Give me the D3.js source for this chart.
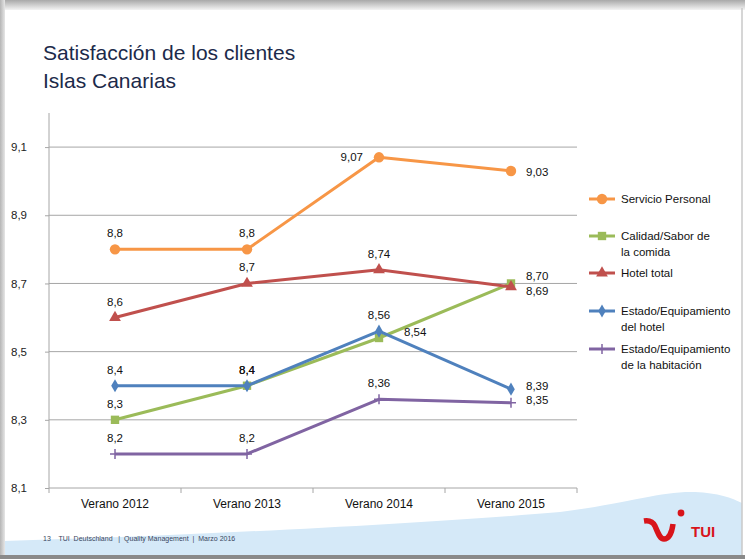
<!DOCTYPE html>
<html>
<head>
<meta charset="utf-8">
<script src="https://cdn.jsdelivr.net/npm/d3@7"></script>
<style>
  body { margin: 0; background: #fff; }
  svg { display: block; }
  text { font-family: "Liberation Sans", Arial, sans-serif; }
</style>
</head>
<body>
<div id="chart"></div>
<script>
// data
const categories = ["Verano 2012", "Verano 2013", "Verano 2014", "Verano 2015"];
const yTicks = [8.1, 8.3, 8.5, 8.7, 8.9, 9.1];

const servicioPersonal = [8.8, 8.8, 9.07, 9.03];
const calidadComida = [8.3, 8.4, 8.54, 8.70];
const hotelTotal = [8.6, 8.7, 8.74, 8.69];
const estadoHotel = [8.4, 8.4, 8.56, 8.39];
const estadoHabitacion = [8.2, 8.2, 8.36, 8.35];

const servicioLabels = ["8,8", "8,8", "9,07", "9,03"];
const calidadLabels = ["8,3", "8,4", "8,54", "8,70"];
const hotelLabels = ["8,6", "8,7", "8,74", "8,69"];
const estadoHotelLabels = ["8,4", "8,4", "8,56", "8,39"];
const habitacionLabels = ["8,2", "8,2", "8,36", "8,35"];

const width = 745, height = 559;
const margin = {top: 113, left: 49, right: 577, bottom: 488};

// label placement: t = above, r = right, l = left, with a small vertical nudge
const series = [
  {name: ["Servicio Personal"], color: "#f79646", marker: "circle",
   values: servicioPersonal, labels: servicioLabels,
   place: [["t", 0], ["t", 0], ["l", 0], ["r", 1]], legendY: 199},
  {name: ["Calidad/Sabor de", "la comida"], color: "#9bbb59", marker: "square",
   values: calidadComida, labels: calidadLabels,
   place: [["t", 0], ["t", 0], ["r2", -6], ["r", -7]], legendY: 236},
  {name: ["Hotel total"], color: "#c0504d", marker: "triangle",
   values: hotelTotal, labels: hotelLabels,
   place: [["t", 0], ["t", 0], ["t", 0], ["r", 4]], legendY: 273},
  {name: ["Estado/Equipamiento", "del hotel"], color: "#4f81bd", marker: "diamond",
   values: estadoHotel, labels: estadoHotelLabels,
   place: [["t", 0], ["t", 0], ["t", 0], ["r", -3]], legendY: 311},
  {name: ["Estado/Equipamiento", "de la habitación"], color: "#8064a2", marker: "plus",
   values: estadoHabitacion, labels: habitacionLabels,
   place: [["t", 0], ["t", 0], ["t", 0], ["r", -3]], legendY: 349}
];

const svg = d3.select("#chart").append("svg")
  .attr("width", width)
  .attr("height", height);

// slide frame
const defs = svg.append("defs");
const topGrad = defs.append("linearGradient").attr("id", "topShade")
  .attr("x1", 0).attr("y1", 0).attr("x2", 0).attr("y2", 1);
topGrad.append("stop").attr("offset", "0%").attr("stop-color", "#a9a9a9");
topGrad.append("stop").attr("offset", "100%").attr("stop-color", "#f4f4f4");
const leftGrad = defs.append("linearGradient").attr("id", "leftShade")
  .attr("x1", 0).attr("y1", 0).attr("x2", 1).attr("y2", 0);
leftGrad.append("stop").attr("offset", "0%").attr("stop-color", "#b5b5b5");
leftGrad.append("stop").attr("offset", "100%").attr("stop-color", "#e6e6e6");

svg.append("rect").attr("width", width).attr("height", height).attr("fill", "#fff");

// blue wave at the bottom
svg.append("path")
  .attr("d", "M4,541 C180,536 420,524 560,512 C630,503 660,491 695,492 C718,493 732,498 742,503 L742,556 L4,556 Z")
  .attr("fill", "#d5e9f8");

svg.append("rect").attr("x", 0).attr("y", 0).attr("width", width).attr("height", 10).attr("fill", "url(#topShade)");
svg.append("rect").attr("x", 0).attr("y", 0).attr("width", 5).attr("height", height).attr("fill", "url(#leftShade)");
svg.append("line").attr("x1", 742).attr("x2", 742).attr("y1", 8).attr("y2", 556)
  .attr("stroke", "#c8c8c8").attr("stroke-width", 1.5);
svg.append("rect").attr("x", 0).attr("y", 555).attr("width", width).attr("height", 4).attr("fill", "#8a8a8a");

// title
const title = svg.append("text")
  .attr("x", 43)
  .attr("y", 60)
  .attr("fill", "#1c2a4a")
  .style("font-size", "21px");
title.append("tspan").attr("x", 43).text("Satisfacción de los clientes");
title.append("tspan").attr("x", 43).attr("dy", 28).text("Islas Canarias");

// scales
const x = d3.scaleBand().domain(categories).range([margin.left, margin.right]).padding(0);
const y = d3.scaleLinear().domain([8.1, 9.2]).range([margin.bottom, margin.top]);
const cx = d => x(d) + x.bandwidth() / 2;

// gridlines
svg.append("g")
  .selectAll("line")
  .data(yTicks.slice(1))
  .enter()
  .append("line")
  .attr("x1", margin.left)
  .attr("x2", margin.right)
  .attr("y1", d => y(d))
  .attr("y2", d => y(d))
  .attr("stroke", "#a6a6a6")
  .attr("stroke-width", 1);

// y axis
const yAxis = svg.append("g")
  .attr("transform", "translate(" + margin.left + ",0)")
  .call(d3.axisLeft(y).tickValues(yTicks).tickSize(4).tickPadding(18)
    .tickFormat(d => d3.format(".1f")(d).replace(".", ",")));
yAxis.select(".domain").attr("stroke", "#a6a6a6").attr("d", "M0," + margin.top + "V" + margin.bottom);
yAxis.selectAll(".tick line").attr("stroke", "#a6a6a6");
yAxis.selectAll("text")
  .attr("fill", "#222")
  .style("font-size", "11.5px")
  .style("font-family", "'Liberation Sans', Arial, sans-serif");

// x axis
const xAxis = svg.append("g")
  .attr("transform", "translate(0," + margin.bottom + ")")
  .call(d3.axisBottom(x).tickSize(0).tickPadding(11));
xAxis.select(".domain").attr("stroke", "#a6a6a6").attr("d", "M" + margin.left + ",0H" + margin.right);
xAxis.selectAll("text")
  .attr("fill", "#111")
  .style("font-size", "12px")
  .style("font-family", "'Liberation Sans', Arial, sans-serif");
// tick marks on the category boundaries
xAxis.append("g")
  .selectAll("line")
  .data(categories.concat([null]))
  .enter()
  .append("line")
  .attr("x1", d => d ? x(d) : margin.right)
  .attr("x2", d => d ? x(d) : margin.right)
  .attr("y1", 0)
  .attr("y2", 5)
  .attr("stroke", "#a6a6a6");

// markers
function drawMarker(g, type, color) {
  if (type === "plus") {
    g.append("path").attr("d", "M-5,0H5M0,-5V5")
      .attr("stroke", color).attr("stroke-width", 1.5).attr("fill", "none");
    return;
  }
  const sym = {circle: d3.symbolCircle, square: d3.symbolSquare,
    triangle: d3.symbolTriangle, diamond: d3.symbolDiamond}[type];
  const size = {circle: 85, square: 70, triangle: 60, diamond: 50}[type];
  g.append("path").attr("d", d3.symbol(sym, size)()).attr("fill", color);
}

const line = d3.line().x((d, i) => cx(categories[i])).y(d => y(d));

series.forEach(s => {
  const g = svg.append("g");
  g.append("path")
    .datum(s.values)
    .attr("d", line)
    .attr("fill", "none")
    .attr("stroke", s.color)
    .attr("stroke-width", 3)
    .attr("stroke-linejoin", "round");
  s.values.forEach((v, i) => {
    const m = g.append("g").attr("transform", "translate(" + cx(categories[i]) + "," + y(v) + ")");
    drawMarker(m, s.marker, s.color);
  });
});

// data labels
series.forEach(s => {
  svg.append("g")
    .selectAll("text")
    .data(s.values)
    .enter()
    .append("text")
    .attr("x", (d, i) => {
      const p = s.place[i][0];
      const px = cx(categories[i]);
      if (p === "t") return px;
      if (p === "l") return px - 16;
      if (p === "r2") return px + 25;
      return px + 15;
    })
    .attr("y", (d, i) => {
      const p = s.place[i][0];
      const py = y(d);
      if (p === "t") return py - 12;
      return py + 4 + s.place[i][1];
    })
    .attr("text-anchor", (d, i) => {
      const p = s.place[i][0];
      return p === "t" ? "middle" : p === "l" ? "end" : "start";
    })
    .attr("fill", "#111")
    .style("font-size", "11.5px")
    .text((d, i) => s.labels[i]);
});

// legend
const legend = svg.append("g");
series.forEach(s => {
  const g = legend.append("g").attr("transform", "translate(0," + s.legendY + ")");
  g.append("line").attr("x1", 589).attr("x2", 615).attr("y1", 0).attr("y2", 0)
    .attr("stroke", s.color).attr("stroke-width", 3);
  const m = g.append("g").attr("transform", "translate(602,0)");
  drawMarker(m, s.marker, s.color);
  const t = g.append("text").attr("x", 621).attr("y", 4)
    .attr("fill", "#111").style("font-size", "11.5px");
  s.name.forEach((n, i) => {
    t.append("tspan").attr("x", 621).attr("dy", i === 0 ? 0 : 16).text(n);
  });
});

// footer
svg.append("text")
  .attr("x", 43)
  .attr("y", 541)
  .attr("fill", "#3a4660")
  .style("font-size", "7px")
  .attr("xml:space", "preserve")
  .text("13    TUI  Deutschland   |  Quality Management  |  Marzo 2016");

// TUI logo
const logo = svg.append("g");
logo.append("path")
  .attr("d", "M644,521 C650,520 653,522 655,526 C658,533 660,539 664,539 C669,539 672,532 673,524")
  .attr("fill", "none").attr("stroke", "#d8141a").attr("stroke-width", 5.5).attr("stroke-linecap", "butt");
logo.append("circle").attr("cx", 681).attr("cy", 513).attr("r", 3.4).attr("fill", "#d8141a");
logo.append("text").attr("x", 691).attr("y", 537)
  .attr("fill", "#d8141a")
  .style("font-size", "15px")
  .style("font-weight", "bold")
  .text("TUI");
</script>
</body>
</html>
